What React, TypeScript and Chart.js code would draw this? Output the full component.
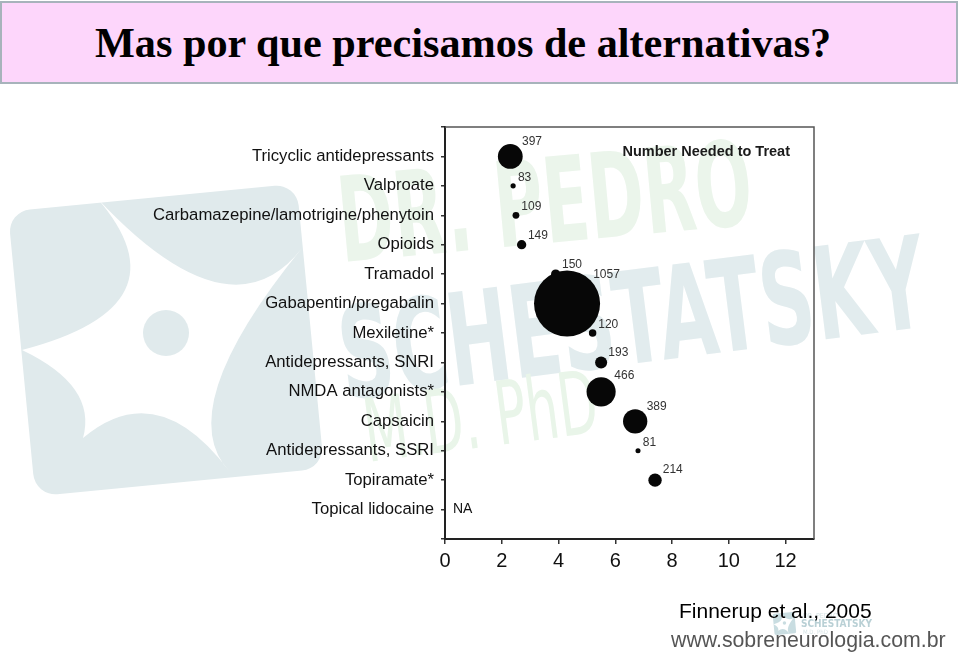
import React, { useEffect, useRef } from 'react';
import { Chart, registerables } from 'chart.js';

Chart.register(...registerables);

// ---- data ----
const categories: string[] = [
  'Tricyclic antidepressants',
  'Valproate',
  'Carbamazepine/lamotrigine/phenytoin',
  'Opioids',
  'Tramadol',
  'Gabapentin/pregabalin',
  'Mexiletine*',
  'Antidepressants, SNRI',
  'NMDA antagonists*',
  'Capsaicin',
  'Antidepressants, SSRI',
  'Topiramate*',
  'Topical lidocaine',
];
// Number needed to treat (x position)
const nntValues: (number | null)[] = [2.3, 2.4, 2.5, 2.7, 3.9, 4.3, 5.2, 5.5, 5.5, 6.7, 6.8, 7.4, null];
// Number of patients (bubble label; bubble size scales with it)
const patientCounts: (number | null)[] = [397, 83, 109, 149, 150, 1057, 120, 193, 466, 389, 81, 214, null];
const xTickStep = 2;
const xAxisMin = 0;
const xAxisMax = 13;
const missingLabel = 'NA';
const chartHeading = 'Number Needed to Treat';
const slideTitle = 'Mas por que precisamos de alternativas?';
const citation = 'Finnerup et al., 2005';
const website = 'www.sobreneurologia.com.br';
const watermarkLines = ['DR. PEDRO', 'SCHESTATSKY', 'M.D. PhD'];

const SANS = '"Liberation Sans", Arial, sans-serif';
const SERIF = '"Liberation Serif", "Times New Roman", serif';
const COND = '"DejaVu Sans Condensed", "DejaVu Sans", sans-serif';

const radiusFor = (n: number) => n / 32;

function measure(text: string, font: string): number {
  const c = document.createElement('canvas').getContext('2d');
  if (!c) return 1;
  c.font = font;
  return c.measureText(text).width;
}

function drawFitted(ctx: CanvasRenderingContext2D, text: string, x: number, y: number, angleDeg: number, font: string, width: number, color: string) {
  ctx.save();
  ctx.font = font;
  const w = ctx.measureText(text).width;
  ctx.translate(x, y);
  ctx.rotate((angleDeg * Math.PI) / 180);
  ctx.scale(width / w, 1);
  ctx.fillStyle = color;
  ctx.textAlign = 'left';
  ctx.textBaseline = 'alphabetic';
  ctx.fillText(text, 0, 0);
  ctx.restore();
}

function drawNeuron(ctx: CanvasRenderingContext2D, ox: number, oy: number, s: number, color: string) {
  ctx.save();
  ctx.translate(ox, oy);
  ctx.scale(s, s);
  ctx.save();
  ctx.translate(166, 340);
  ctx.rotate((-5.5 * Math.PI) / 180);
  ctx.fillStyle = color;
  ctx.beginPath();
  (ctx as any).roundRect(-145, -143, 290, 286, 22);
  ctx.fill();
  ctx.restore();
  const tips: [number, number][] = [[97, 198], [302, 248], [230, 472], [83, 438], [22, 350]];
  const mids: [number, number][] = [[215, 282], [218, 385], [157, 415], [75, 390], [125, 290]];
  ctx.fillStyle = '#ffffff';
  ctx.beginPath();
  ctx.moveTo(tips[0][0], tips[0][1]);
  for (let i = 0; i < tips.length; i++) {
    const a = tips[i];
    const b = tips[(i + 1) % tips.length];
    const m = mids[i];
    ctx.quadraticCurveTo(2 * m[0] - (a[0] + b[0]) / 2, 2 * m[1] - (a[1] + b[1]) / 2, b[0], b[1]);
  }
  ctx.closePath();
  ctx.fill();
  ctx.fillStyle = color;
  ctx.beginPath();
  ctx.arc(166, 333, 23, 0, Math.PI * 2);
  ctx.fill();
  ctx.restore();
}

const watermarkPlugin = {
  id: 'watermark',
  beforeDraw(chart: any) {
    const ctx: CanvasRenderingContext2D = chart.ctx;
    drawNeuron(ctx, 0, 0, 1, '#e0eaec');
    // watermark words
    drawFitted(ctx, watermarkLines[0], 342, 262, -5.3, `bold 118px ${COND}`, 415, '#ebf5eb');
    drawFitted(ctx, watermarkLines[1], 345, 400, -7.2, `bold 128px ${COND}`, 590, '#e2ecee');
    drawFitted(ctx, watermarkLines[2], 368, 462, -7.4, `88px ${COND}`, 235, '#e9f5e9');
    // small footer logo
    drawNeuron(ctx, 772, 598, 0.075, '#c9dde1');
    ctx.save();
    ctx.textAlign = 'left';
    ctx.textBaseline = 'alphabetic';
    ctx.fillStyle = '#d6e4e6';
    ctx.font = `7px ${COND}`;
    ctx.fillText(watermarkLines[0], 803, 618);
    ctx.fillStyle = '#b9d0d5';
    ctx.font = `bold 10px ${COND}`;
    ctx.fillText(watermarkLines[1], 801, 627);
    ctx.fillStyle = '#d6e4e6';
    ctx.font = `6px ${COND}`;
    ctx.fillText(watermarkLines[2], 803, 634);
    ctx.restore();
  },
};

const labelsPlugin = {
  id: 'bubbleLabels',
  afterDatasetsDraw(chart: any) {
    const ctx: CanvasRenderingContext2D = chart.ctx;
    const meta = chart.getDatasetMeta(0);
    const data = chart.data.datasets[0].data as any[];
    const { left, right, top, bottom } = chart.chartArea;
    ctx.save();
    ctx.font = `12px ${SANS}`;
    ctx.fillStyle = '#333';
    ctx.textAlign = 'left';
    ctx.textBaseline = 'middle';
    meta.data.forEach((el: any, i: number) => {
      const r = el.options.radius;
      ctx.fillText(String(data[i].n), el.x + 0.7 * r + 3, el.y - 0.7 * r - 6);
    });
    // NA for categories without a value
    ctx.font = `14px ${SANS}`;
    ctx.fillStyle = '#111';
    const xs = chart.scales.x;
    const ys = chart.scales.y;
    nntValues.forEach((v, i) => {
      if (v == null) ctx.fillText(missingLabel, xs.getPixelForValue(xAxisMin) + 8, ys.getPixelForValue(i));
    });
    // heading
    ctx.font = `bold 14.5px ${SANS}`;
    ctx.fillStyle = '#1a1a1a';
    ctx.textAlign = 'right';
    ctx.fillText(chartHeading, right - 24, top + 25);
    // top & right frame
    ctx.strokeStyle = '#555';
    ctx.lineWidth = 1.5;
    ctx.beginPath();
    ctx.moveTo(left, top);
    ctx.lineTo(right, top);
    ctx.lineTo(right, bottom);
    ctx.stroke();
    ctx.restore();
  },
};

export default function App() {
  const canvasRef = useRef<HTMLCanvasElement | null>(null);

  useEffect(() => {
    document.body.style.margin = '0';
    const canvas = canvasRef.current;
    if (!canvas) return;
    const points: any[] = [];
    nntValues.forEach((x, i) => {
      const n = patientCounts[i];
      if (x != null && n != null) points.push({ x, y: i, r: radiusFor(n), n });
    });
    const chart = new Chart(canvas, {
      type: 'bubble',
      data: {
        datasets: [
          {
            data: points,
            backgroundColor: '#070707',
            borderWidth: 0,
            hoverRadius: 0,
          } as any,
        ],
      },
      options: {
        animation: false,
        responsive: false,
        events: [],
        layout: { padding: { left: 0, top: 127, right: 146, bottom: 0 } },
        plugins: {
          legend: { display: false },
          tooltip: { enabled: false },
          title: { display: false },
        },
        scales: {
          x: {
            type: 'linear',
            min: xAxisMin,
            max: xAxisMax,
            afterFit: (s: any) => {
              s.height = 122;
            },
            ticks: {
              stepSize: xTickStep,
              includeBounds: false,
              font: { family: SANS, size: 20 },
              color: '#111',
              padding: 5,
            },
            grid: { drawOnChartArea: false, drawTicks: true, tickLength: 5, color: '#333', lineWidth: 1.5 },
            border: { color: '#222', width: 2 },
          },
          y: {
            type: 'linear',
            reverse: true,
            min: -1,
            max: categories.length,
            afterFit: (s: any) => {
              s.width = 445;
            },
            ticks: {
              stepSize: 1,
              autoSkip: false,
              callback: (v: any) => (Number.isInteger(v) && categories[v] ? categories[v] : ''),
              font: { family: SANS, size: 16.7 },
              color: '#111',
              padding: 7,
            },
            grid: { drawOnChartArea: false, drawTicks: true, tickLength: 4, color: '#333', lineWidth: 1.5 },
            border: { color: '#222', width: 2 },
          },
        },
      } as any,
      plugins: [watermarkPlugin, labelsPlugin],
    });
    return () => chart.destroy();
  }, []);

  const titleFont = `bold 42px ${SERIF}`;
  const titleScale = 737 / measure(slideTitle, titleFont);

  return (
    <div style={{ position: 'relative', width: 960, height: 661, background: '#fff', overflow: 'hidden' }}>
      <canvas ref={canvasRef} width={960} height={661} style={{ position: 'absolute', left: 0, top: 0, width: 960, height: 661 }} />
      <div
        style={{
          position: 'absolute',
          left: 0,
          top: 1,
          width: 958,
          height: 83,
          boxSizing: 'border-box',
          background: '#fdd6fb',
          border: '2px solid #a7b3bb',
        }}
      />
      <div
        style={{
          position: 'absolute',
          left: 95,
          top: 21.8,
          font: titleFont,
          lineHeight: 1,
          whiteSpace: 'nowrap',
          color: '#000',
          transform: `scaleX(${titleScale})`,
          transformOrigin: 'left top',
        }}
      >
        {slideTitle}
      </div>
      <div
        style={{
          position: 'absolute',
          left: 679,
          top: 600,
          font: `21px ${SANS}`,
          lineHeight: 1,
          whiteSpace: 'nowrap',
          color: '#000',
        }}
      >
        {citation}
      </div>
      <div
        style={{
          position: 'absolute',
          left: 671,
          top: 630,
          font: `21.3px ${SANS}`,
          lineHeight: 1,
          whiteSpace: 'nowrap',
          color: '#555',
        }}
      >
        {website}
      </div>
    </div>
  );
}
